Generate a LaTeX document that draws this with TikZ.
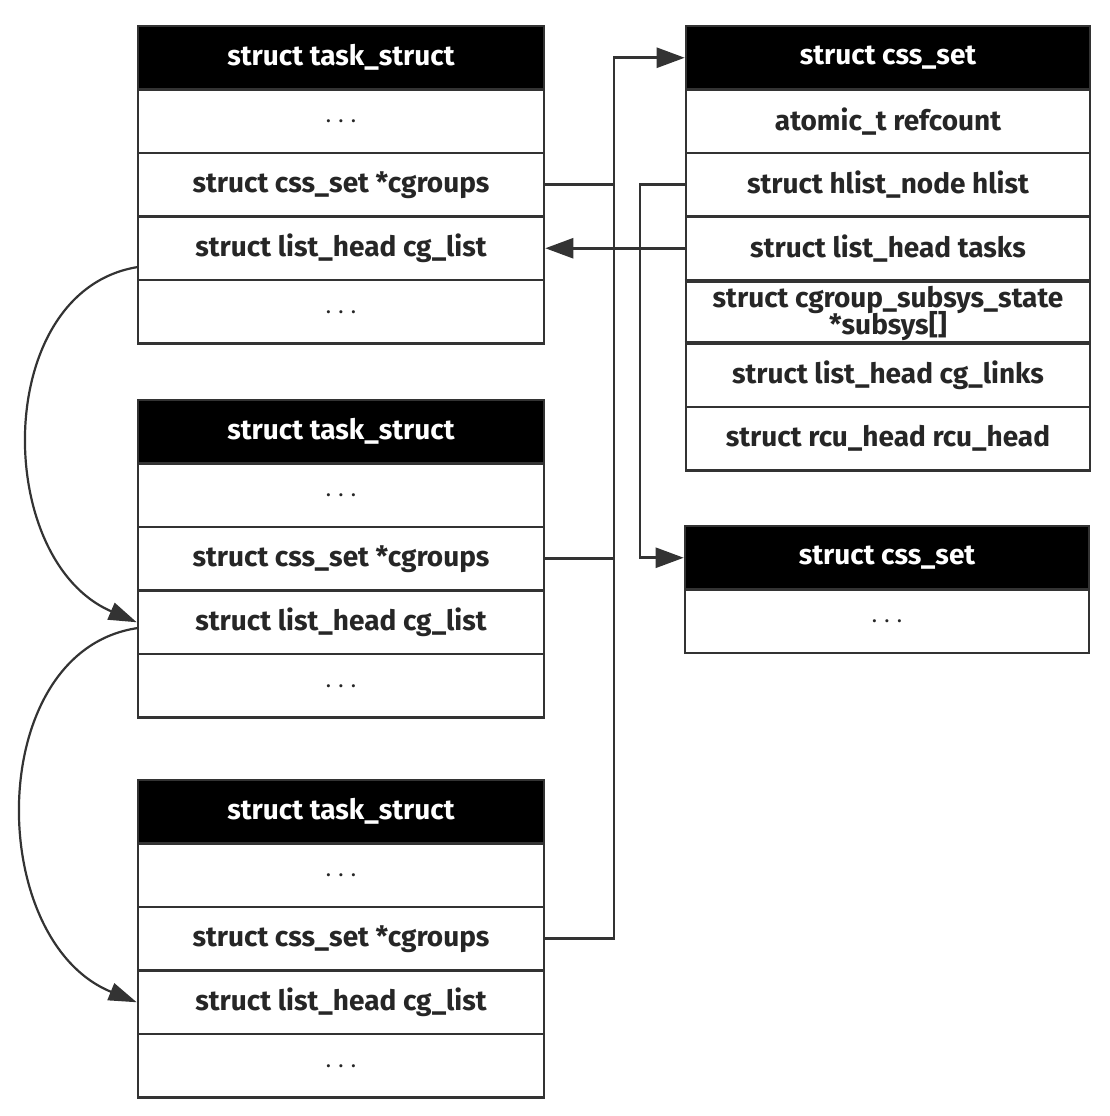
\documentclass[tikz,border=0pt]{standalone}
\usepackage{fontspec}
\setmainfont{Fira Sans}
\usetikzlibrary{arrows.meta}
\definecolor{ln}{HTML}{333333}
\tikzset{
  fld/.style={draw=ln, line width=2.6pt, fill=white, minimum height=63.5pt, inner sep=0pt,
    font=\fontsize{28}{30}\selectfont\bfseries, text=black!85},
  lfld/.style={fld, minimum width=406pt},
  rfld/.style={fld, minimum width=404pt},
  hdr/.style={fill=black, text=white},
  conn/.style={draw=ln, line width=2.6pt},
  arr/.style={conn, -{Triangle[length=28pt,width=20pt]}},
  carr/.style={draw=ln, line width=2.2pt, -{Triangle[length=28pt,width=18pt]}},
  dots/.style={font=\fontsize{22}{22}\selectfont}
}
\begin{document}
\begin{tikzpicture}[x=1pt,y=-1pt]
\useasboundingbox (0,0) rectangle (1110,1116);
% task_struct 1
\node[lfld,hdr] (t1h) at (341,57.75) {struct task\_struct};
\node[lfld,dots] (t1a) at (341,121.25) {.\,\,.\,\,.};
\node[lfld] (t1b) at (341,184.75) {struct css\_set *cgroups};
\node[lfld] (t1c) at (341,248.25) {struct list\_head cg\_list};
\node[lfld,dots] (t1d) at (341,311.75) {.\,\,.\,\,.};
% task_struct 2
\node[lfld,hdr] (t2h) at (341,431.75) {struct task\_struct};
\node[lfld,dots] (t2a) at (341,495.25) {.\,\,.\,\,.};
\node[lfld] (t2b) at (341,558.75) {struct css\_set *cgroups};
\node[lfld] (t2c) at (341,622.25) {struct list\_head cg\_list};
\node[lfld,dots] (t2d) at (341,685.75) {.\,\,.\,\,.};
% task_struct 3
\node[lfld,hdr] (t3h) at (341,811.75) {struct task\_struct};
\node[lfld,dots] (t3a) at (341,875.25) {.\,\,.\,\,.};
\node[lfld] (t3b) at (341,938.75) {struct css\_set *cgroups};
\node[lfld] (t3c) at (341,1002.25) {struct list\_head cg\_list};
\node[lfld,dots] (t3d) at (341,1065.75) {.\,\,.\,\,.};
% css_set 1
\node[rfld,hdr] (r1h) at (888,57.75) {struct css\_set};
\node[rfld] (r1a) at (888,121.25) {atomic\_t refcount};
\node[rfld] (r1b) at (888,184.75) {struct hlist\_node hlist};
\node[rfld] (r1c) at (888,248.25) {struct list\_head tasks};
\node[rfld,align=center] (r1d) at (888,313.5) {struct cgroup\_subsys\_state\\[-3pt]*subsys[]};
\node[rfld] (r1e) at (888,375.25) {struct list\_head cg\_links};
\node[rfld] (r1f) at (888,438.75) {struct rcu\_head rcu\_head};
\draw[conn] (r1d.north west) -- (r1d.north east);
\draw[conn] (r1e.north west) -- (r1e.north east);
% css_set 2
\node[rfld,hdr] (r2h) at (887,557.75) {struct css\_set};
\node[rfld,dots] (r2a) at (887,621.25) {.\,\,.\,\,.};
% bus for cgroups pointers
\coordinate (bus) at (614,0);
\draw[conn] (t1b.east) -- (t1b.east -| bus);
\draw[conn] (t2b.east) -- (t2b.east -| bus);
\draw[arr] (t3b.east) -- (t3b.east -| bus) -- (bus |- r1h.west) -- (r1h.west);
% hlist
\coordinate (hl) at (640,0);
\draw[arr] (r1b.west) -- (r1b.west -| hl) -- (hl |- r2h.west) -- (r2h.west);
% tasks
\draw[arr] (r1c.west) -- (t1c.east);
% cg_list chain
\coordinate (c1s) at (138,267);
\draw[carr] (c1s) .. controls (-8,290) and (-8,560) .. (t2c.west);
\coordinate (c2s) at (138,628);
\draw[carr] (c2s) .. controls (-16,650) and (-16,940) .. (t3c.west);
\end{tikzpicture}
\end{document}
